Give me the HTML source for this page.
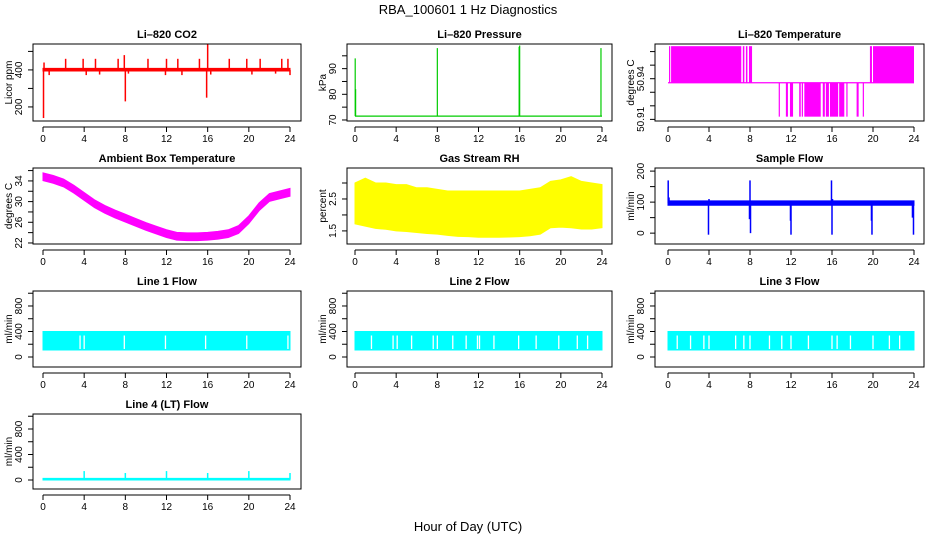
<!DOCTYPE html>
<html><head><meta charset="utf-8"><style>
body{margin:0;background:#fff}
svg{display:block;font-family:"Liberation Sans",sans-serif}
</style></head><body>
<svg id="c" width="936" height="540" viewBox="0 0 936 540">
<text x="468" y="14" text-anchor="middle" font-size="13">RBA_100601  1 Hz Diagnostics</text>
<text x="468" y="531" text-anchor="middle" font-size="13">Hour of Day (UTC)</text>
</svg>
<script>
// ---------- data ----------
const xTicks=[0,4,8,12,16,20,24];
// CO2
const co2Base=400;
const co2SpikeHours=[0.05,0.1,0.6,2.2,3.9,4.2,5.1,5.5,7.3,7.9,8.0,8.3,10.2,11.9,12.0,13.1,13.5,15.2,15.9,16.0,16.3,18.1,19.8,20.3,21.1,22.6,23.2,23.8,24.0];
const co2SpikeVals=[140,440,372,460,460,372,460,375,460,480,230,380,460,372,460,460,372,460,250,540,375,460,460,375,460,380,460,460,372];
// Pressure
const presBase=71.5;
const presSpikeHours=[0.02,0.06,8.0,15.95,16.0,23.9];
const presSpikeVals=[94,82,98,98.5,99,98];
// Li-820 temperature
const tempHigh=50.964, tempMid=50.937, tempLow=50.912;
const tempHighStart=[0.1,0.3,7.3,7.6,7.9,19.7,20.0];
const tempHighEnd=[0.2,7.15,7.45,7.75,8.2,19.9,24.0];
const tempLowStart=[10.8,11.5,11.9,12.8,13.05,13.3,15.1,15.4,15.8,16.7,17.4,18.4,19.0];
const tempLowEnd=[10.85,11.7,12.2,12.95,13.15,14.9,15.3,15.7,16.6,17.2,17.5,18.6,19.1];
// Ambient box temperature (hourly centre)
const ambHours=[0,1,2,3,4,5,6,7,8,9,10,11,12,13,14,15,16,17,18,19,20,21,22,23,24];
const ambVals=[34.8,34.3,33.6,32.4,31.0,29.6,28.5,27.6,26.8,26.0,25.2,24.5,23.8,23.3,23.2,23.2,23.3,23.5,23.8,24.6,26.5,29.0,30.8,31.3,31.8];
const ambHalfWidth=0.75;
// Gas stream RH envelope (hourly)
const rhUpper=[3.0,3.15,3.0,3.0,2.95,2.95,2.85,2.85,2.8,2.75,2.75,2.75,2.75,2.75,2.75,2.75,2.75,2.8,2.85,3.05,3.1,3.2,3.05,3.0,2.95];
const rhLower=[1.72,1.65,1.58,1.55,1.5,1.48,1.45,1.42,1.4,1.36,1.33,1.32,1.3,1.3,1.3,1.31,1.32,1.35,1.4,1.6,1.62,1.6,1.56,1.56,1.6];
// Sample flow
const sfBase=97;
const sfSpikeHours=[0.02,0.1,3.95,4.0,7.95,8.0,8.05,11.95,12.0,15.95,16.0,16.05,19.85,19.9,23.85,23.95];
const sfSpikeVals=[170,115,-5,110,45,170,0,40,-5,170,-5,110,40,-5,50,-5];
// Line flows
const lfUpper=400, lfLower=110;
const line1Gaps=[3.6,4.0,7.9,11.9,15.8,19.8,23.8];
const line2Gaps=[1.6,3.7,4.1,5.5,7.6,8.0,9.5,10.8,11.9,12.1,13.5,15.9,17.6,19.8,21.6,22.6];
const line3Gaps=[0.9,2.2,3.5,4.0,6.6,7.4,8.0,9.9,11.1,12.0,13.7,16.0,16.5,17.8,20.0,21.6,22.6];
// Line 4 flow
const l4Base=10;
const l4SpikeHours=[4.0,8.0,12.0,16.0,20.0,24.0];
const l4SpikeVals=[140,110,140,110,140,110];

// ---------- helpers ----------
const svg=document.getElementById('c');
const NS='http://www.w3.org/2000/svg';
function mk(tag,attrs,parent){const e=document.createElementNS(NS,tag);for(const k in attrs)e.setAttribute(k,attrs[k]);(parent||svg).appendChild(e);return e;}
const cols=[{l:33,r:301,x0:43,x24:290},{l:347,r:612,x0:355,x24:602},{l:655,r:924,x0:668,x24:914}];
const rows=[{t:44,b:121},{t:168,b:244},{t:291,b:367},{t:414,b:489}];

function panel(name,ci,ri,title,ylab,ymin,ymax,ticks,labels){
  const c=cols[ci],r=rows[ri];
  const g=mk('g',{});
  
  
  const X=h=>c.x0+(c.x24-c.x0)*h/24;
  const Y=v=>r.b-(v-ymin)/(ymax-ymin)*(r.b-r.t);
  const t=mk('text',{x:(c.l+c.r)/2,y:r.t-6,'text-anchor':'middle','font-size':11,'font-weight':'bold'},g);
  t.textContent=title;
  
  
  const yl=mk('text',{x:0,y:0,'text-anchor':'middle','font-size':10,transform:`translate(${c.l-21},${(r.t+r.b)/2}) rotate(-90)`},g);
  yl.textContent=ylab;
  
  
  const plot=mk('g',{},g);
  // y axis (on box edge)
  ticks.forEach(v=>{mk('line',{x1:c.l-5,x2:c.l,y1:Y(v),y2:Y(v),stroke:'#000'},g);});
  labels.forEach(v=>{const tx=mk('text',{x:0,y:0,'text-anchor':'middle','font-size':10,transform:`translate(${c.l-11},${Y(v)}) rotate(-90)`},g);tx.textContent=String(v);
    
    });
  // x axis
  mk('line',{x1:X(0),x2:X(24),y1:r.b+6,y2:r.b+6,stroke:'#000'},g);
  xTicks.forEach(h=>{mk('line',{x1:X(h),x2:X(h),y1:r.b+6,y2:r.b+11,stroke:'#000'},g);
    const tx=mk('text',{x:X(h),y:r.b+21,'text-anchor':'middle','font-size':10},g);tx.textContent=h;
    
    });
  mk('rect',{x:c.l,y:r.t,width:c.r-c.l,height:r.b-r.t,fill:'none',stroke:'#000'},g);
  return {X,Y,g:plot};
}
function spikes(p,hours,vals,base,color,w){
  hours.forEach((h,i)=>{const l=mk('line',{x1:p.X(h),x2:p.X(h),y1:p.Y(base),y2:p.Y(vals[i]),stroke:color,'stroke-width':w||1.5},p.g);
    
    });
}
function band(p,up,lo,color,name){
  let d='';
  up.forEach((v,i)=>{d+=(i?'L':'M')+p.X(i)+','+p.Y(v);});
  for(let i=lo.length-1;i>=0;i--)d+='L'+p.X(i)+','+p.Y(lo[i]);
  const e=mk('path',{d:d+'Z',fill:color,stroke:color},p.g);
  
  
}

// CO2
let p=panel('co2-panel',0,0,'Li\u2013820 CO2','Licor ppm',124,540,[200,300,400,500],[200,400]);
band(p,ambHours.map(()=>co2Base+8),ambHours.map(()=>co2Base-6),'#f00','co2-band');
spikes(p,co2SpikeHours,co2SpikeVals,co2Base,'#f00',1.5);
// Pressure
p=panel('pressure-panel',1,0,'Li\u2013820 Pressure','kPa',69.6,99.6,[70,75,80,85,90,95],[70,80,90]);
mk('path',{d:`M${p.X(0)},${p.Y(presBase)}H${p.X(24)}`,stroke:'#0c0','stroke-width':1.2,fill:'none'},p.g);
spikes(p,presSpikeHours,presSpikeVals,presBase,'#0c0',1.2);
// Li-820 temperature
p=panel('li820-temperature-panel',2,0,'Li\u2013820 Temperature','degrees C',50.9088,50.9656,[50.91,50.92,50.93,50.94,50.95,50.96],['50.91','50.94']);
mk('path',{d:`M${p.X(0)},${p.Y(tempMid)}H${p.X(24)}`,stroke:'#f0f','stroke-width':1.2},p.g);
tempHighStart.forEach((s,i)=>{const e=mk('rect',{x:p.X(s),y:p.Y(tempHigh),width:Math.max(1.2,p.X(tempHighEnd[i])-p.X(s)),height:p.Y(tempMid)-p.Y(tempHigh),fill:'#f0f'},p.g);
  
  });
tempLowStart.forEach((s,i)=>{const e=mk('rect',{x:p.X(s),y:p.Y(tempMid),width:Math.max(1.2,p.X(tempLowEnd[i])-p.X(s)),height:p.Y(tempLow)-p.Y(tempMid),fill:'#f0f'},p.g);
  
  });
// Ambient
p=panel('ambient-temperature-panel',0,1,'Ambient Box Temperature','degrees C',21.8,36.5,[22,24,26,28,30,32,34,36],[22,26,30,34]);
band(p,ambVals.map(v=>v+ambHalfWidth),ambVals.map(v=>v-ambHalfWidth),'#f0f','ambient-band');
// RH
p=panel('gas-rh-panel',1,1,'Gas Stream RH','percent',1.09,3.47,[1.5,2,2.5,3],[1.5,2.5]);
band(p,rhUpper,rhLower,'#ff0','rh-band');
// Sample flow
p=panel('sample-flow-panel',2,1,'Sample Flow','ml/min',-35,210,[0,50,100,150,200],[0,100,200]);
band(p,ambHours.map(()=>sfBase+7),ambHours.map(()=>sfBase-7),'#00f','sample-flow-band');
spikes(p,sfSpikeHours,sfSpikeVals,sfBase,'#00f',1.5);
// Line flows
const lf=[['line1-flow-panel',0,'Line 1 Flow',line1Gaps],['line2-flow-panel',1,'Line 2 Flow',line2Gaps],['line3-flow-panel',2,'Line 3 Flow',line3Gaps]];
lf.forEach(([n,ci,t,gaps])=>{
  const q=panel(n,ci,2,t,'ml/min',-157,1035,[0,200,400,600,800,1000],[0,400,800]);
  band(q,ambHours.map(()=>lfUpper),ambHours.map(()=>lfLower),'#0ff','flow-band');
  gaps.forEach(h=>{const e=mk('line',{x1:q.X(h),x2:q.X(h),y1:q.Y(lfUpper)+4,y2:q.Y(lfLower)-1,stroke:'#fff','stroke-width':1.3},q.g);
    
    });
});
// Line 4
p=panel('line4-flow-panel',0,3,'Line 4 (LT) Flow','ml/min',-141,1035,[0,200,400,600,800,1000],[0,400,800]);
band(p,ambHours.map(()=>l4Base+15),ambHours.map(()=>l4Base-10),'#0ff','line4-band');
spikes(p,l4SpikeHours,l4SpikeVals,l4Base,'#0ff',1.5);
</script>
</body></html>
